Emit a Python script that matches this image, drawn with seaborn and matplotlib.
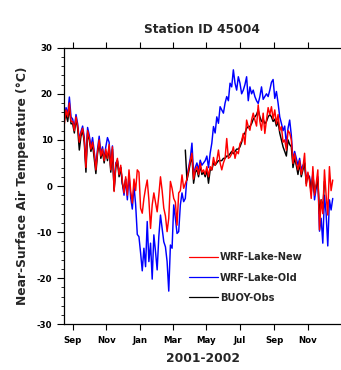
import numpy as np
import pandas as pd
import matplotlib
matplotlib.use("Agg")
import matplotlib.pyplot as plt
from matplotlib.lines import Line2D
from matplotlib.ticker import MultipleLocator
import seaborn as sns

# ---------------- data ----------------
start_date = "2001-08-17"
step_days = 3
nan = np.nan

wrf_new = [
    13.5, 16.5, 15.0, 18.0, 14.0,
    14.0, 12.0, 15.0, 13.0, 9.5, 11.5, 12.5, 10.0, 4.0, 12.0,
    10.5, 8.0, 9.5, 7.0, 3.5, 7.5, 10.0, 6.5, 8.0, 5.5,
    8.0, 6.0, 9.0, 3.5, 8.5, -1.2, 4.5, 6.0, 2.5, 4.5,
    1.0, -1.5, 2.0, -2.0, 3.5, -1.0, -3.7, 1.5, -1.0, 3.5,
    3.0, -4.8, -5.9, -2.7, -0.5, 1.3, -3.0, -9.2, -4.1, -1.5,
    -3.5, -5.6, -2.0, 2.0, -1.0, -4.8, -6.5, -9.9, -7.0, 1.0,
    -0.5, -2.7, -3.5, -8.5, -1.5, -1.0, 2.4, -0.5, 0.5, 1.5,
    3.5, 5.5, 7.1, 1.5, 3.5, 4.2, 2.5, 4.9, 3.0, 3.5,
    2.5, 4.2, 2.0, 4.2, 3.5, 6.2, 4.5, 5.5, 7.8, 5.0,
    3.5, 5.0, 6.0, 10.3, 6.0, 6.3, 7.0, 8.5, 6.0, 7.5,
    7.0, 9.2, 9.8, 11.4, 9.0, 14.3, 12.9, 12.1, 14.3, 15.8,
    14.3, 13.0, 17.6, 14.0, 12.1, 15.8, 11.4, 14.3, 17.0, 15.5,
    17.2, 14.5, 16.5, 13.5, 15.5, 12.0, 12.9, 9.5, 10.0, 7.8,
    12.0, 11.5, 10.0, 4.9, 7.0, 5.0, 3.5, 5.5, 2.5, 4.0,
    7.1, 0.0, 3.0, 1.0, -2.7, 4.2, -2.0, 0.5, 3.5, -9.5,
    -3.0, -6.0, 3.5, -2.0, -6.3, 4.2, -1.0, 1.3,
]

wrf_old = [
    15.0, 17.0, 15.5, 19.3, 15.0,
    14.5, 12.5, 15.5, 13.5, 10.0, 11.8, 13.0, 10.5, 4.5, 12.7,
    11.0, 8.5, 10.5, 7.5, 4.0, 8.0, 10.8, 7.0, 8.5, 6.0,
    8.5, 10.5, 9.5, 4.0, 8.7, -0.5, 5.0, 5.5, 3.0, 4.0,
    0.5, -2.0, 1.5, -3.0, 2.5, -2.5, -5.0, 0.0, -4.0, -10.5,
    -11.0, -14.5, -18.4, -13.5, -17.5, -7.7, -16.4, -12.4, -20.2, -10.6,
    -14.2, -18.2, -11.0, -6.3, -9.2, -12.1, -13.2, -16.4, -22.8, -12.8,
    -13.5, -4.1, -7.0, -10.3, -9.9, -4.1, -1.5, -3.4, -2.7, 2.0,
    4.0, 6.0, 9.3, 2.5, 4.0, 5.0, 3.5, 5.6, 4.5, 5.0,
    5.5, 6.5, 4.0, 7.1, 9.3, 12.9, 11.5, 15.0, 13.6, 17.2,
    16.5, 15.8, 18.0, 19.4, 18.5, 22.3, 21.5, 25.2, 22.3, 20.8,
    23.7, 22.3, 20.0, 20.8, 22.0, 23.7, 18.5, 21.5, 20.0, 20.8,
    19.4, 18.5, 17.9, 19.4, 21.5, 18.8, 19.4, 20.0, 19.4, 20.8,
    22.5, 23.1, 19.0, 20.5, 18.0, 15.0, 13.6, 12.0, 13.0, 9.0,
    12.5, 14.3, 11.0, 5.5, 7.5, 6.0, 4.5, 6.0, 3.5, 4.5,
    5.0, 1.5, 2.5, 2.0, -1.5, 3.0, -3.0, -0.5, 2.0, -9.8,
    -7.0, -12.4, -2.0, -6.0, -13.0, -3.0, -5.2, -2.7,
]

buoy_obs = [
    14.5, 15.5, 14.0, 17.0, 13.5,
    13.5, 11.5, 14.5, 12.5, 7.8, 10.8, 12.0, 9.5, 3.0, 11.5,
    10.0, 7.5, 9.0, 6.0, 2.7, 7.0, 9.5, 6.0, 7.5, 5.0,
    7.5, 5.5, 8.5, 3.0, 8.0, -1.0, 4.0, 5.5, 2.0, 4.0,
    0.5, -1.0, 1.5, nan, nan, nan, nan, nan, nan, nan,
    nan, nan, nan, nan, nan, nan, nan, nan, nan, nan,
    nan, nan, nan, nan, nan, nan, nan, nan, nan, nan,
    nan, nan, nan, nan, nan, nan, nan, nan, 7.8, 1.3,
    3.0, 5.0, 6.5, 0.6, 3.0, 3.5, 2.0, 4.5, 2.5, 3.0,
    2.0, 3.5, 0.6, 3.5, 3.5, 5.0, 4.5, 5.0, 5.5, 5.5,
    5.5, 6.0, 6.0, 6.5, 6.5, 7.0, 7.5, 7.0, 7.5, 8.0,
    8.0, 8.5, 9.5, 11.0, 11.5, 12.5, 12.9, 12.9, 13.5, 14.5,
    15.0, 15.5, 16.5, 15.0, 14.0, 14.5, 13.5, 14.0, 15.0, 15.5,
    15.0, 14.0, 14.5, 13.0, 14.0, 11.5, 10.0, 8.5, 7.5, 6.5,
    10.0, 9.0, 8.5, 4.0, 6.0, 4.5, 2.5, 5.0, 2.0, 3.5,
    5.0, 0.5, 2.5, 1.5, -1.5, 2.5, -1.5, 0.0, 1.5, -6.0,
    -3.0, -5.0, 1.0, nan, nan, nan, nan, nan,
]

series_names = ["WRF-Lake-New", "WRF-Lake-Old", "BUOY-Obs"]
series_colors = ["#ff0000", "#0000ff", "#000000"]

tick_dates = ["2001-09-01", "2001-11-01", "2002-01-01", "2002-03-01",
              "2002-05-01", "2002-07-01", "2002-09-01", "2002-11-01"]
tick_labels = ["Sep", "Nov", "Jan", "Mar", "May", "Jul", "Sep", "Nov"]
y_ticks = [-30, -20, -10, 0, 10, 20, 30]

title_text = "Station ID 45004"
xlabel_text = "2001-2002"
ylabel_text = "Near-Surface Air Temperature (\u00b0C)"

# ---------------- frame ----------------
dates = pd.date_range(start_date, periods=len(wrf_new), freq=f"{step_days}D")
df = pd.DataFrame({"date": dates,
                   series_names[0]: wrf_new,
                   series_names[1]: wrf_old,
                   series_names[2]: buoy_obs})

sns.set_style("ticks")
plt.rcParams["font.family"] = ["DejaVu Sans"]
plt.rcParams["font.weight"] = "bold"

W, H = 341, 370
fig = plt.figure(figsize=(W / 100, H / 100), dpi=100)
left_px, right_px, top_px, bottom_px = 64.4, 348.2, 47.7, 324.3
ax = fig.add_axes([left_px / W, 1 - bottom_px / H,
                   (right_px - left_px) / W, (bottom_px - top_px) / H])

lw = 1.05
sns.lineplot(data=df, x="date", y=series_names[1], color=series_colors[1],
             lw=lw, ax=ax, estimator=None, sort=False)

obs = df[["date", series_names[2]]].copy()
obs["seg"] = obs[series_names[2]].isna().cumsum()
obs = obs.dropna()
sns.lineplot(data=obs, x="date", y=series_names[2], units="seg", estimator=None,
             color=series_colors[2], lw=lw, ax=ax, sort=False)

sns.lineplot(data=df, x="date", y=series_names[0], color=series_colors[0],
             lw=lw, ax=ax, estimator=None, sort=False)

ax.set_xlim(pd.Timestamp(start_date), pd.Timestamp("2003-01-13"))
ax.set_ylim(-30, 30)
ax.set_xticks(pd.to_datetime(tick_dates))
ax.set_xticklabels(tick_labels)
ax.set_yticks(y_ticks)
ax.set_yticklabels([str(v) for v in y_ticks])
ax.yaxis.set_minor_locator(MultipleLocator(2))

for side in ["left", "top", "bottom"]:
    ax.spines[side].set_linewidth(0.9)
    ax.spines[side].set_color("black")
ax.spines["right"].set_visible(False)

ax.tick_params(axis="x", which="major", direction="out", length=4.6, width=0.8,
               top=True, bottom=True, labelsize=6.2, pad=3.8, colors="black")
ax.tick_params(axis="y", which="major", direction="out", length=5.0, width=0.8,
               left=True, right=False, labelsize=6.2, pad=3.6, colors="black")
ax.tick_params(axis="y", which="minor", direction="out", length=2.3, width=0.7,
               left=True, right=False)
for lab in ax.get_xticklabels() + ax.get_yticklabels():
    lab.set_fontweight("bold")

ax_w = right_px - left_px
ax_h = bottom_px - top_px
ax.set_xlabel(xlabel_text, fontsize=8.8, fontweight="bold")
ax.xaxis.set_label_coords((202.7 - left_px) / ax_w, -(352.0 - bottom_px) / ax_h)
ax.set_ylabel(ylabel_text, fontsize=8.8, fontweight="bold")
ax.yaxis.set_label_coords((29.5 - left_px) / ax_w, 0.5)
ax.set_title(title_text, fontsize=8.8, fontweight="bold",
             x=(201.5 - left_px) / ax_w, y=1 + (top_px - 32.7) / ax_h, pad=0)

handles = [Line2D([], [], color=c, lw=0.9) for c in series_colors]
leg = ax.legend(handles, series_names, loc="upper left",
                bbox_to_anchor=((189.3 - left_px) / ax_w, (bottom_px - 252.5) / ax_h),
                frameon=False, borderpad=0, borderaxespad=0,
                handlelength=2.94, handletextpad=0.15, labelspacing=1.03,
                prop={"size": 7.1, "weight": "bold"})

fig.savefig("out.png", dpi=100)
